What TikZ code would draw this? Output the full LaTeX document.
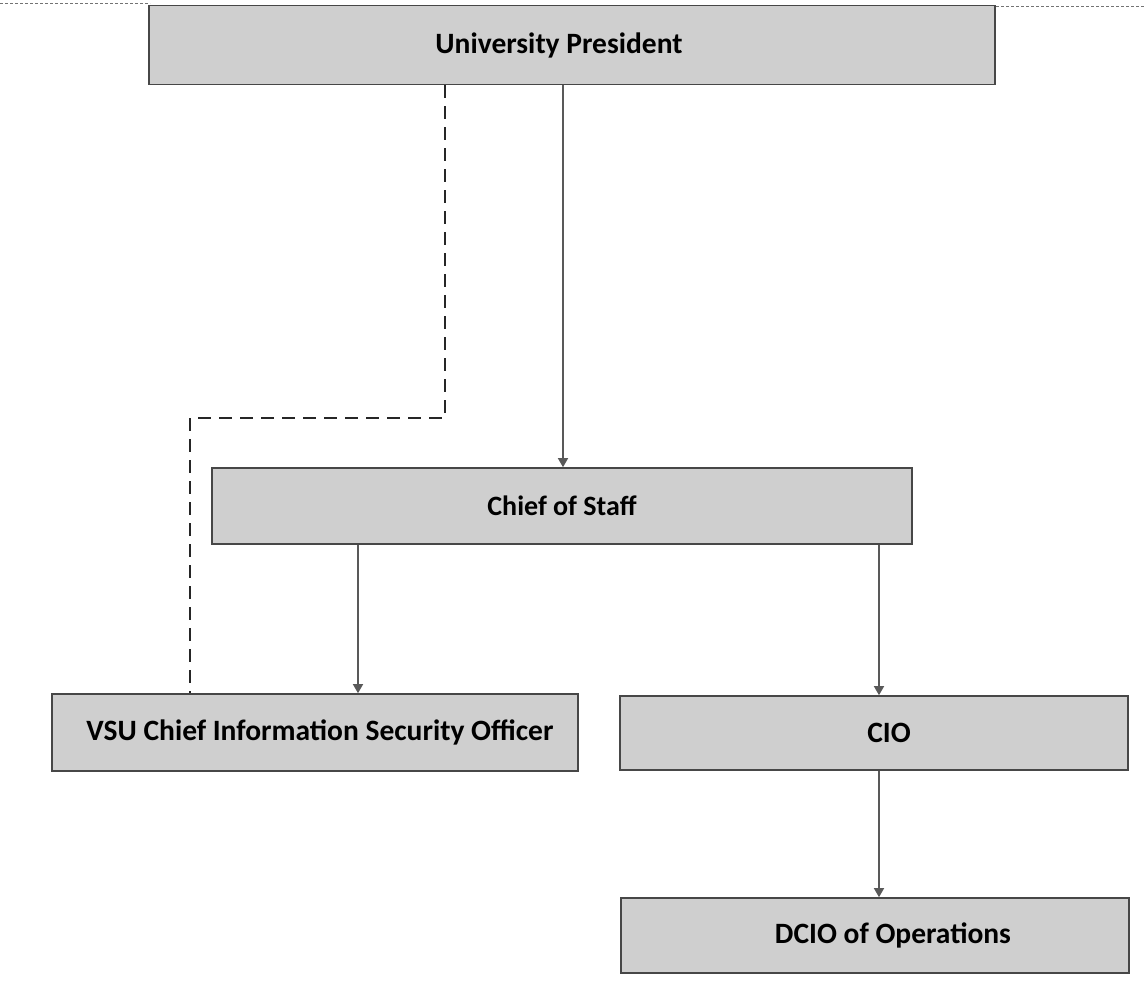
\documentclass[tikz,border=0pt]{standalone}
\usepackage{fontspec}
\setmainfont{Carlito}
\usetikzlibrary{arrows.meta}
\tikzset{
  orgbox/.style={draw=black!72, line width=1.6pt, fill=black!19, inner sep=0pt,
    font=\fontsize{29.5}{34}\selectfont\bfseries, text=black},
  link/.style={draw=black!65, line width=1.4pt, -{Triangle[length=9pt,width=10pt]}},
  dotlink/.style={draw=black!85, line width=1.8pt, dash pattern=on 13pt off 8pt}
}
\begin{document}
\begin{tikzpicture}[x=1pt,y=1pt]
\useasboundingbox (0,0) rectangle (1144,1002);
\draw[black!55, line width=0.8pt, dash pattern=on 3pt off 2pt] (0,999) -- (150,999);
\draw[black!55, line width=0.8pt, dash pattern=on 3pt off 2pt] (996,996) -- (1144,996);
\node[orgbox, minimum width=846pt, minimum height=79pt] (up) at (572,957) {University President\hspace*{26pt}};
\node[orgbox, minimum width=700pt, minimum height=76pt, font=\fontsize{28}{32}\selectfont\bfseries] (cos) at (562,496) {Chief of Staff};
\node[orgbox, minimum width=526pt, minimum height=77pt] (ciso) at (315,269.5) {\hspace*{10pt}VSU Chief Information Security Officer};
\node[orgbox, minimum width=508pt, minimum height=74pt] (cio) at (874,269) {\hspace*{30pt}CIO};
\node[orgbox, minimum width=508pt, minimum height=75pt] (dcio) at (875,66.5) {\hspace*{36pt}DCIO of Operations};
\coordinate (d1) at (445,584);
\coordinate (d2) at (190,584);
\draw[dotlink] (up.south -| d1) -- (d1) -- (d2) -- (ciso.north -| d2);
\draw[link] (up.south -| 563,0) -- (cos.north -| 563,0);
\draw[link] (cos.south -| 358,0) -- (ciso.north -| 358,0);
\draw[link] (cos.south -| 879,0) -- (cio.north -| 879,0);
\draw[link] (cio.south -| 879,0) -- (dcio.north -| 879,0);
\end{tikzpicture}
\end{document}
